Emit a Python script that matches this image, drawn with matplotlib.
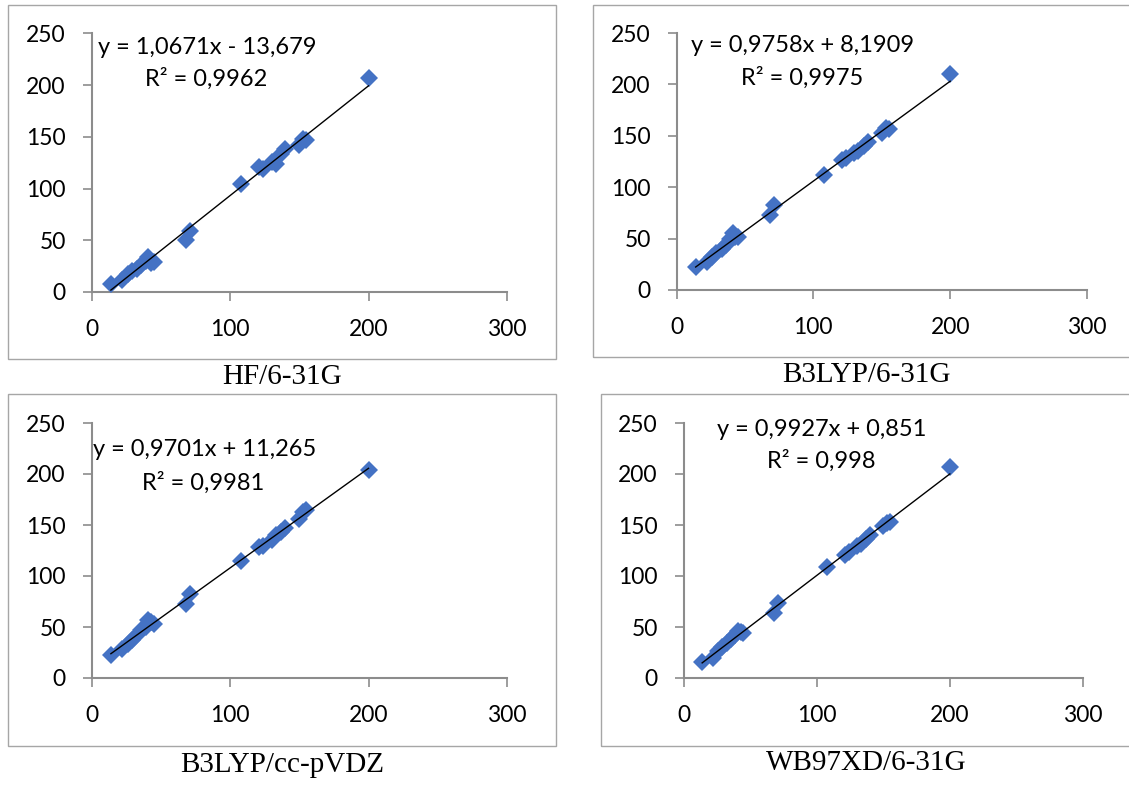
import numpy as np
import matplotlib
matplotlib.use("Agg")
import matplotlib.pyplot as plt
from matplotlib.patches import Rectangle

# ---- data ----
x_exp = [14, 22, 26, 29, 33, 36, 39, 41, 43, 45, 68, 71, 108, 121, 124, 130, 133, 137, 140, 150, 153, 155, 200]
y_hf = [8, 12, 17, 20, 22, 26, 30, 34, 28, 29, 50, 59, 104, 121, 119, 126, 124, 133, 138, 142, 148, 147, 207]
y_b3lyp_631g = [22, 27, 32, 36, 40, 44, 50, 55, 52, 52, 73, 83, 112, 126, 128, 133, 135, 140, 144, 153, 158, 157, 210]
y_b3lyp_ccpvdz = [23, 28, 33, 37, 42, 47, 50, 57, 55, 53, 73, 82, 115, 128, 129, 135, 140, 143, 147, 156, 163, 165, 204]
y_wb97xd = [16, 20, 26, 30, 34, 38, 42, 46, 45, 44, 64, 74, 109, 121, 124, 129, 131, 136, 140, 149, 152, 153, 207]

titles = ["HF/6-31G", "B3LYP/6-31G", "B3LYP/cc-pVDZ", "WB97XD/6-31G"]
equations = ["y = 1,0671x - 13,679", "y = 0,9758x + 8,1909",
             "y = 0,9701x + 11,265", "y = 0,9927x + 0,851"]
r2_labels = ["R² = 0,9962", "R² = 0,9975", "R² = 0,9981", "R² = 0,998"]
series = [y_hf, y_b3lyp_631g, y_b3lyp_ccpvdz, y_wb97xd]
x_ticks = [0, 100, 200, 300]
y_ticks = [0, 50, 100, 150, 200, 250]

# ---- layout (pixels) ----
W, H = 1129, 785
layout = [
    dict(frame=(8, 5, 556, 359), axes=(91.5, 507, 292, 33.5), title=(282, 377), eq=(98, 48), r2=(145, 79)),
    dict(frame=(593, 5, 1140, 357), axes=(676.5, 1087, 290, 33), title=(866, 375), eq=(691, 45), r2=(741, 78)),
    dict(frame=(8, 394, 556, 746), axes=(91.5, 507, 678, 423), title=(282, 765), eq=(93, 450), r2=(142, 483)),
    dict(frame=(601, 394, 1140, 746), axes=(683.5, 1083, 678, 423), title=(866, 763), eq=(717, 430), r2=(767, 461)),
]

fig = plt.figure(figsize=(W / 100, H / 100), dpi=100)
fig.patch.set_facecolor("white")

tick_font = "Lato"
title_font = "Liberation Serif"
axis_grey = "#8c8c8c"
marker_col = "#4472C4"

for lay, ys, title, eq, r2 in zip(layout, series, titles, equations, r2_labels):
    fx0, fy0, fx1, fy1 = lay["frame"]
    fig.add_artist(Rectangle((fx0 / W, 1 - fy1 / H), (fx1 - fx0) / W, (fy1 - fy0) / H,
                             transform=fig.transFigure, fill=False, ec="#a6a6a6", lw=1.0))
    ax0, ax1, ay0, ay1 = lay["axes"]
    ax = fig.add_axes([ax0 / W, 1 - ay0 / H, (ax1 - ax0) / W, (ay0 - ay1) / H])
    ax.set_xlim(0, 300)
    ax.set_ylim(0, 250)
    ax.set_xticks(x_ticks)
    ax.set_yticks(y_ticks)
    for s in ["top", "right"]:
        ax.spines[s].set_visible(False)
    for s in ["left", "bottom"]:
        ax.spines[s].set_color(axis_grey)
        ax.spines[s].set_linewidth(1.5)
    ax.tick_params(direction="out", length=6.5, width=1.2, color=axis_grey,
                   labelsize=16.5)
    ax.tick_params(axis="x", pad=13)
    ax.tick_params(axis="y", pad=12)
    for lbl in ax.get_xticklabels() + ax.get_yticklabels():
        lbl.set_fontfamily(tick_font)
        lbl.set_color("black")
    ax.set_facecolor("none")

    xs = np.array(x_exp, dtype=float)
    yv = np.array(ys, dtype=float)
    m, b = np.polyfit(xs, yv, 1)
    xl = np.array([xs.min(), xs.max()])
    ax.plot(xs, yv, linestyle="none", marker="D", ms=9.5, color=marker_col,
            markeredgewidth=0, zorder=3, clip_on=False)
    ax.plot(xl, m * xl + b, color="black", lw=1.0, zorder=4)

    ex, ey = lay["eq"]
    fig.text(ex / W, 1 - ey / H, eq, fontsize=17, family=tick_font, ha="left", va="center")
    rx, ry = lay["r2"]
    fig.text(rx / W, 1 - ry / H, r2, fontsize=17, family=tick_font, ha="left", va="center")
    tx, ty = lay["title"]
    fig.text(tx / W, 1 - ty / H, title, fontsize=21, family=title_font, ha="center", va="center")

fig.savefig("out.png", dpi=100, facecolor="white")
